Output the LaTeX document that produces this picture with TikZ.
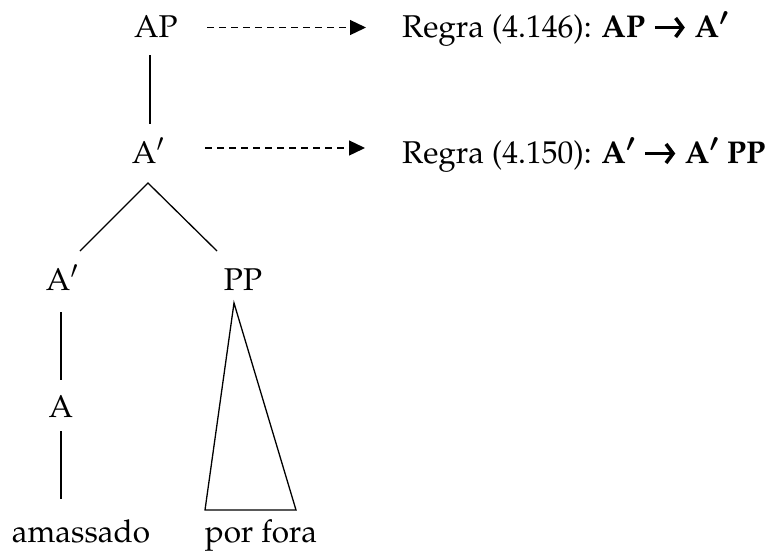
\documentclass[tikz,border=0pt]{standalone}
\usepackage[T1]{fontenc}
\usepackage{mathpazo}
\usetikzlibrary{arrows.meta}
\tikzset{
  lbl/.style={anchor=base, inner sep=0pt, font=\fontsize{31.5}{36}\selectfont},
  rule/.style={anchor=base west, inner sep=0pt, font=\fontsize{31.5}{36}\selectfont},
  branch/.style={line width=1.3pt},
  dasharrow/.style={line width=1.3pt, dash pattern=on 7pt off 5pt, -{Triangle[length=16pt,width=15pt]}}
}
\newcommand{\pr}{$'$}
\newcommand{\bpr}{{\boldmath$'$}}
\newcommand{\barr}{\tikz[baseline=0pt,x=1pt,y=1pt]{\draw[line width=3.6pt,-{Straight Barb[length=7pt,width=19pt,line width=3.6pt]}] (0,9.5)--(30,9.5);}}
\begin{document}
\begin{tikzpicture}[x=1pt,y=-1pt]
\useasboundingbox (0,0) rectangle (775,550);
% labels
\node[lbl] (AP) at (156,37) {AP};
\node[lbl] (Ab) at (148,163) {A\pr};
\node[lbl] (Al) at (62,290) {A\pr};
\node[lbl] (PP) at (243,290) {PP};
\node[lbl] (A) at (61,417) {A};
\node[lbl] (w1) at (81,542) {amassado};
\node[lbl] (w2) at (261,542) {por fora};
\node[rule] (r1) at (402,37) {Regra (4.146): \textbf{AP \barr{} A\bpr}};
\node[rule] (r2) at (402,163) {Regra (4.150): \textbf{A\bpr{} \barr{} A\bpr{} PP}};
% coordinates
\coordinate (apT) at (150,55);
\coordinate (apB) at (150,124);
\coordinate (apex) at (148,183);
\coordinate (bl) at (80,251);
\coordinate (br) at (217,251);
\coordinate (l1T) at (61,312);
\coordinate (l1B) at (61,380);
\coordinate (l2T) at (61,431);
\coordinate (l2B) at (61,499);
\coordinate (tA) at (234,303);
\coordinate (tL) at (205,510);
\coordinate (tR) at (296,510);
\coordinate (d1s) at (207,27.5);
\coordinate (d1e) at (366,27.5);
\coordinate (d2s) at (205,148);
\coordinate (d2e) at (365,148);
% edges
\draw[branch] (apT) -- (apB);
\draw[branch] (bl) -- (apex) -- (br);
\draw[branch] (l1T) -- (l1B);
\draw[branch] (l2T) -- (l2B);
\draw[branch, line join=miter] (tA) -- (tL) -- (tR) -- cycle;
\draw[dasharrow] (d1s) -- (d1e);
\draw[dasharrow] (d2s) -- (d2e);
\end{tikzpicture}
\end{document}
